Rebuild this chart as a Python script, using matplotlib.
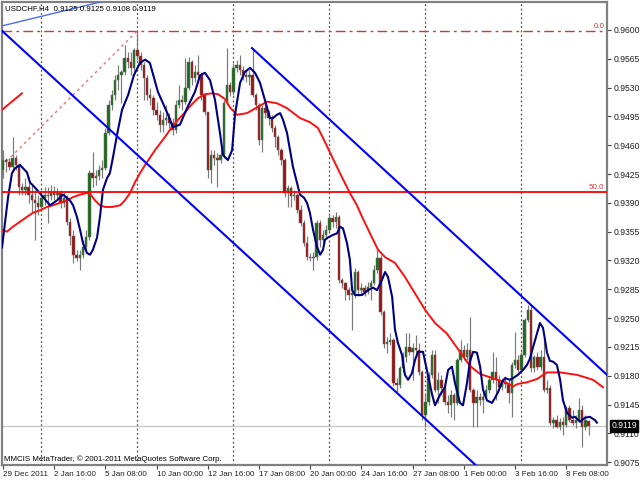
import matplotlib
matplotlib.use('Agg')
import matplotlib.pyplot as plt
import numpy as np

# ---------------- data ----------------
opens = [.9430,.9442,.9440,.9434,.9445,.9436,.9409,.9406,.9409,.9400,.9393,.9390,.9385,.9396,.9400,.9398,.9403,.9400,.9402,.9390,
         .9396,.9367,.9350,.9327,.9323,.9327,.9336,.9348,.9426,.9420,.9423,.9430,.9432,.9475,.9509,.9521,.9539,.9545,.9549,.9566,
         .9561,.9554,.9576,.9568,.9557,.9542,.9521,.9517,.9503,.9497,.9485,.9491,.9493,.9487,.9479,.9509,.9515,.9513,.9530,.9561,
         .9542,.9549,.9545,.9521,.9500,.9430,.9448,.9445,.9442,.9448,.9511,.9533,.9525,.9554,.9557,.9551,.9545,.9543,.9545,.9521,
         .9509,.9466,.9505,.9499,.9493,.9481,.9470,.9454,.9442,.9402,.9408,.9398,.9400,.9381,.9365,.9341,.9324,.9323,.9324,.9365,
         .9345,.9351,.9357,.9372,.9367,.9373,.9296,.9293,.9284,.9278,.9281,.9306,.9284,.9287,.9282,.9288,.9293,.9308,.9323,.9257,
         .9218,.9221,.9223,.9171,.9169,.9189,.9203,.9215,.9209,.9214,.9211,.9184,.9132,.9148,.9181,.9205,.9163,.9175,.9165,.9148,
         .9144,.9157,.9147,.9199,.9211,.9203,.9211,.9163,.9147,.9154,.9150,.9154,.9163,.9175,.9184,.9175,.9166,.9172,.9170,.9159,
         .9193,.9199,.9187,.9205,.9248,.9260,.9189,.9203,.9191,.9203,.9163,.9165,.9123,.9126,.9118,.9124,.9120,.9141,.9126,.9123,
         .9126,.9138,.9118,.9125]
highs = [.9454,.9445,.9445,.9470,.9448,.9438,.9414,.9420,.9421,.9412,.9406,.9400,.9406,.9409,.9409,.9412,.9411,.9408,.9406,.9403,
         .9400,.9372,.9357,.9333,.9333,.9345,.9357,.9430,.9452,.9430,.9436,.9442,.9481,.9515,.9527,.9545,.9557,.9551,.9582,.9573,
         .9573,.9578,.9599,.9573,.9561,.9545,.9530,.9521,.9513,.9503,.9500,.9509,.9499,.9493,.9515,.9533,.9521,.9566,.9567,.9564,
         .9557,.9570,.9549,.9523,.9500,.9454,.9454,.9451,.9454,.9515,.9578,.9537,.9560,.9564,.9570,.9556,.9551,.9551,.9578,.9523,
         .9511,.9509,.9511,.9503,.9497,.9485,.9472,.9457,.9445,.9412,.9411,.9406,.9402,.9387,.9369,.9350,.9329,.9330,.9369,.9369,
         .9357,.9363,.9378,.9375,.9379,.9375,.9299,.9294,.9288,.9289,.9311,.9308,.9293,.9290,.9294,.9296,.9314,.9335,.9327,.9260,
         .9227,.9232,.9226,.9177,.9192,.9209,.9232,.9232,.9220,.9229,.9220,.9187,.9159,.9184,.9211,.9211,.9184,.9181,.9169,.9157,
         .9163,.9159,.9201,.9223,.9217,.9220,.9251,.9165,.9163,.9159,.9160,.9169,.9180,.9209,.9203,.9181,.9177,.9180,.9175,.9197,
         .9233,.9205,.9209,.9250,.9266,.9266,.9205,.9209,.9211,.9226,.9175,.9169,.9130,.9132,.9129,.9130,.9143,.9144,.9138,.9132,
         .9153,.9144,.9132,.9125]
lows = [.9420,.9427,.9430,.9430,.9430,.9400,.9400,.9400,.9390,.9378,.9345,.9375,.9381,.9387,.9365,.9393,.9393,.9393,.9384,.9385,
        .9363,.9339,.9317,.9319,.9308,.9323,.9333,.9345,.9409,.9412,.9418,.9420,.9430,.9472,.9503,.9515,.9527,.9511,.9545,.9554,
        .9545,.9549,.9564,.9551,.9515,.9515,.9509,.9497,.9491,.9476,.9476,.9485,.9481,.9472,.9475,.9505,.9503,.9510,.9527,.9533,
        .9537,.9539,.9515,.9497,.9420,.9414,.9436,.9409,.9438,.9445,.9509,.9520,.9521,.9549,.9545,.9539,.9537,.9533,.9519,.9503,
        .9460,.9452,.9493,.9485,.9476,.9458,.9448,.9436,.9397,.9385,.9385,.9393,.9378,.9362,.9338,.9321,.9319,.9308,.9321,.9336,
        .9341,.9347,.9355,.9361,.9359,.9293,.9287,.9272,.9272,.9236,.9274,.9277,.9278,.9277,.9279,.9272,.9290,.9305,.9254,.9214,
        .9208,.9217,.9167,.9160,.9165,.9184,.9197,.9205,.9175,.9203,.9181,.9126,.9118,.9144,.9177,.9160,.9147,.9157,.9144,.9135,
        .9130,.9126,.9144,.9197,.9199,.9199,.9160,.9118,.9118,.9144,.9135,.9150,.9159,.9171,.9150,.9163,.9163,.9165,.9147,.9130,
        .9189,.9184,.9183,.9203,.9245,.9184,.9184,.9187,.9187,.9160,.9159,.9120,.9116,.9116,.9114,.9108,.9118,.9124,.9120,.9116,
        .9124,.9093,.9114,.9108]
closes = [.9442,.9440,.9434,.9445,.9436,.9409,.9406,.9409,.9400,.9393,.9390,.9385,.9396,.9400,.9398,.9403,.9400,.9402,.9390,.9396,
          .9367,.9350,.9327,.9323,.9327,.9336,.9348,.9426,.9420,.9423,.9430,.9432,.9475,.9509,.9521,.9539,.9545,.9549,.9566,.9561,
          .9554,.9576,.9568,.9557,.9542,.9521,.9517,.9503,.9497,.9485,.9491,.9493,.9487,.9479,.9509,.9515,.9513,.9530,.9561,.9542,
          .9549,.9545,.9521,.9500,.9430,.9448,.9445,.9442,.9448,.9511,.9533,.9525,.9554,.9557,.9551,.9545,.9543,.9545,.9521,.9509,
          .9466,.9505,.9499,.9493,.9481,.9470,.9454,.9442,.9402,.9408,.9398,.9400,.9381,.9365,.9341,.9324,.9323,.9324,.9365,.9345,
          .9351,.9357,.9372,.9367,.9373,.9296,.9293,.9284,.9278,.9281,.9306,.9284,.9287,.9282,.9288,.9293,.9308,.9323,.9257,.9218,
          .9221,.9223,.9171,.9169,.9189,.9203,.9215,.9209,.9214,.9211,.9184,.9132,.9148,.9181,.9205,.9163,.9175,.9165,.9148,.9144,
          .9157,.9147,.9199,.9211,.9203,.9211,.9163,.9147,.9154,.9150,.9154,.9163,.9175,.9184,.9175,.9166,.9172,.9170,.9159,.9193,
          .9199,.9187,.9205,.9248,.9260,.9189,.9203,.9191,.9203,.9163,.9165,.9123,.9126,.9118,.9124,.9120,.9141,.9126,.9123,.9126,
          .9138,.9118,.9126,.9119]

# fast smoothed line (navy) : bar position, price
navy_x = [-0.3,0.6,1.6,2.8,3.75,5.3,7.5,8.4,10.6,12.5,14.7,16.9,18.75,20.9,21.9,23.1,24.1,25,26.25,27.2,28.1,29.4,30.3,31.25,32.5,
          33.4,34.4,35.6,37.2,39.1,40.9,42.8,44.4,45.9,48.4,51.25,53.1,55.3,57.5,60,61.6,63.1,64.7,66.25,67.8,68.75,70.3,71.6,72.5,
          74.1,75.6,77.2,78.75,80.3,81.25,82.5,83.4,84.4,85.6,86.6,87.5,88.75,89.7,90.6,91.9,92.8,94.1,95,95.9,96.9,98.1,99.1,100,
          100.6,101.6,103.1,104.4,105.3,106.25,107.5,108.4,109.1,110,112.2,114.1,115.6,116.9,118.4,119.4,120.3,121.6,122.5,123.4,
          124.7,125.6,126.6,127.8,128.75,129.7,131.25,132.8,134.1,135,136.6,138.1,139.1,140.3,141.25,142.8,143.75,145,145.9,146.9,
          148.1,149.1,150,151.25,152.8,153.75,154.7,155.9,156.9,158.4,159.4,160.9,162.5,163.75,164.7,165.6,166.9,167.8,168.75,
          169.4,170,170.9,171.9,173.1,174.1,175,176.25,177.8,178.75,180.3,181.9,183.4,185,185.6]
navy_y = [.9336,.9365,.9397,.9426,.9432,.9436,.9427,.9415,.9406,.9397,.9387,.9393,.9400,.9393,.9387,.9373,.9357,.9341,.9329,.9327,
          .9333,.9348,.9373,.9406,.9420,.9426,.9446,.9472,.9503,.9521,.9545,.9560,.9564,.9560,.9525,.9500,.9482,.9485,.9505,.9525,
          .9545,.9548,.9539,.9515,.9475,.9448,.9442,.9454,.9497,.9536,.9549,.9554,.9548,.9536,.9523,.9506,.9493,.9493,.9497,.9499,
          .9491,.9475,.9454,.9434,.9414,.9400,.9396,.9390,.9378,.9357,.9337,.9327,.9333,.9345,.9348,.9351,.9353,.9361,.9359,.9341,
          .9321,.9284,.9278,.9278,.9284,.9287,.9284,.9296,.9306,.9300,.9276,.9236,.9220,.9205,.9181,.9175,.9183,.9199,.9209,.9209,
          .9181,.9157,.9144,.9157,.9166,.9187,.9191,.9171,.9147,.9144,.9171,.9197,.9209,.9208,.9191,.9163,.9150,.9147,.9153,.9160,
          .9172,.9177,.9175,.9177,.9181,.9187,.9193,.9201,.9214,.9232,.9244,.9238,.9223,.9208,.9198,.9197,.9193,.9175,.9150,.9135,
          .9129,.9130,.9124,.9129,.9130,.9126,.9123]

# slow moving average (red)
red_x = [-0.3,1.25,3.1,5.3,7.5,9.4,11.6,13.75,15.6,17.8,20,21.9,24.1,26.25,27.2,28.75,30.3,31.9,34.1,36.6,38.1,39.7,41.25,42.8,
         44.4,47.5,50.6,52.8,54.7,56.9,59.1,60.9,63.1,65.3,67.2,69.4,70.9,73.1,76.25,79.4,82.5,85.6,88.75,92.8,95.9,98.4,100,102.2,
         105.3,108.4,110.6,112.2,115.3,117.2,119.4,122.5,125.6,128.75,131.9,135,138.75,142.8,145.9,149.1,153.1,157.5,159.4,160.9,
         163.75,166.9,170,174.1,179.4,184.4,187.5]
red_y = [.9357,.9355,.9361,.9367,.9373,.9378,.9381,.9385,.9387,.9390,.9393,.9397,.9400,.9402,.9401,.9393,.9387,.9385,.9385,.9387,
         .9393,.9402,.9415,.9426,.9436,.9454,.9470,.9482,.9491,.9500,.9510,.9517,.9522,.9523,.9522,.9516,.9506,.9497,.9499,.9506,
         .9513,.9511,.9505,.9493,.9488,.9481,.9469,.9451,.9426,.9402,.9387,.9373,.9348,.9333,.9324,.9317,.9300,.9280,.9260,.9244,
         .9231,.9209,.9192,.9182,.9177,.9171,.9167,.9170,.9172,.9176,.9184,.9184,.9181,.9175,.9166]
red_stub_x = [-0.3, 5.9]
red_stub_y = [.9503, .9523]

# drawn objects
chan_low = ([-0.3, 117.8], [.9599, .9178])
chan_up = ([77.8, 188.75], [.9578, .9181])
thin_line = ([-0.3, 29.4], [.9605, .9633])
fibo_trend = ([-0.3, 42.0], [.9435, .9599])
fibo_levels = [.9599, .9403]
fibo_names = ['0.0', '50.0']
bid_price = .9119
week_grid = [12, 42, 72, 102, 132, 162]

xtick_pos = [0, 16, 32, 48, 64, 80, 96, 112, 128, 144, 160, 176]
xtick_lab = ['29 Dec 2011', '2 Jan 16:00', '5 Jan 08:00', '10 Jan 00:00', '12 Jan 16:00', '17 Jan 08:00',
             '20 Jan 00:00', '24 Jan 16:00', '27 Jan 08:00', '1 Feb 00:00', '3 Feb 16:00', '8 Feb 08:00']
ytick_vals = [0.9075, 0.9110, 0.9145, 0.9180, 0.9215, 0.9250, 0.9285, 0.9320, 0.9355, 0.9390, 0.9425, 0.9460,
              0.9495, 0.9530, 0.9565, 0.9600]

# ---------------- drawing ----------------
plt.rcParams['font.family'] = ['Liberation Sans', 'DejaVu Sans']
W, H = 640, 480
fig = plt.figure(figsize=(6.4, 4.8), dpi=100)
fig.patch.set_facecolor('white')
ax = fig.add_axes([2 / W, 1 - 465 / H, 605 / W, 463 / H])
ax.set_xlim(-0.31, 188.75)
ax.set_ylim(0.90715, 0.96340)

# weekly separators
for g in week_grid:
    ax.axvline(g, color='#505050', lw=0.9, ls=(0, (1.5, 2)), zorder=1)

# bid line
ax.axhline(bid_price, color='#c8c8c8', lw=1.0, zorder=1)

# fibo
ax.axhline(fibo_levels[0], color='#c83c3c', lw=1.0, ls=(0, (7, 3, 2, 3)), zorder=2)
ax.axhline(fibo_levels[1], color='#ff0000', lw=1.3, zorder=6)
ax.plot(fibo_trend[0], fibo_trend[1], color='#f07070', lw=1.0, ls=(0, (2, 2.5)), zorder=2)
for lv, nm in zip(fibo_levels, fibo_names):
    ax.text(188.0, lv + 0.00012, nm, color='#c83c3c', fontsize=5.8, ha='right', va='bottom', zorder=7)

# candles
o = np.array(opens); h = np.array(highs); l = np.array(lows); c = np.array(closes)
idx = np.arange(len(c))
up = c >= o
ax.vlines(idx, l, h, color='#7a7a7a', lw=0.85, zorder=3)
bb = np.minimum(o, c)
bh = np.maximum(np.abs(c - o), 0.00004)
ax.bar(idx[up], bh[up], bottom=bb[up], width=0.7, color='#1c6e1c', edgecolor='#6a6a6a', linewidth=0.35, zorder=4)
ax.bar(idx[~up], bh[~up], bottom=bb[~up], width=0.7, color='#a01212', edgecolor='#6a6a6a', linewidth=0.35, zorder=4)

# indicators
ax.plot(red_x, red_y, color='#ff1010', lw=1.4, zorder=5)
ax.plot(red_stub_x, red_stub_y, color='#ff1010', lw=1.4, zorder=5)
ax.plot(navy_x, navy_y, color='#000080', lw=1.5, zorder=5)

# channel lines
def ext(pts, x_end):
    (x1, x2), (y1, y2) = pts
    s = (y2 - y1) / (x2 - x1)
    return [x1, x_end], [y1, y1 + s * (x_end - x1)]

xs, ys = ext(chan_low, 200)
ax.plot(xs, ys, color='#0000ff', lw=1.5, zorder=6)
xs, ys = ext(chan_up, 200)
ax.plot(xs, ys, color='#0000ff', lw=1.5, zorder=6)
xs, ys = ext(thin_line, 40)
ax.plot(xs, ys, color='#4b6cf0', lw=1.0, zorder=6)

# axes styling
for side in ['left', 'top', 'bottom', 'right']:
    ax.spines[side].set_color('#808080')
    ax.spines[side].set_linewidth(1.6)
ax.yaxis.tick_right()
ax.set_yticks(ytick_vals)
ax.set_yticklabels(['%.4f' % v for v in ytick_vals])
ax.tick_params(axis='y', length=3, width=0.8, color='#404040', labelsize=6.2, pad=1.5, labelcolor='#202020')
ax.set_xticks(xtick_pos)
ax.set_xticklabels(xtick_lab, ha='left')
ax.tick_params(axis='x', length=3, width=0.8, color='#404040', labelsize=5.8, pad=1.5, labelcolor='#202020')

# bid price tag
ax.annotate('%.4f' % bid_price, xy=(1.0, bid_price), xycoords=('axes fraction', 'data'),
            xytext=(3, 0), textcoords='offset points', fontsize=6.2, color='white', va='center', ha='left',
            bbox=dict(boxstyle='square,pad=0.15', fc='black', ec='black'), zorder=10, annotation_clip=False)

fig.text(5 / W, 1 - 9 / H, 'USDCHF,H4  0.9125 0.9125 0.9108 0.9119', fontsize=5.7, color='black', va='center', ha='left')
fig.text(4 / W, 1 - 459 / H, 'MMCIS MetaTrader, \u00a9 2001-2011 MetaQuotes Software Corp.', fontsize=5.7,
         color='black', va='center', ha='left')

fig.savefig('out.png', dpi=100, facecolor='white')
